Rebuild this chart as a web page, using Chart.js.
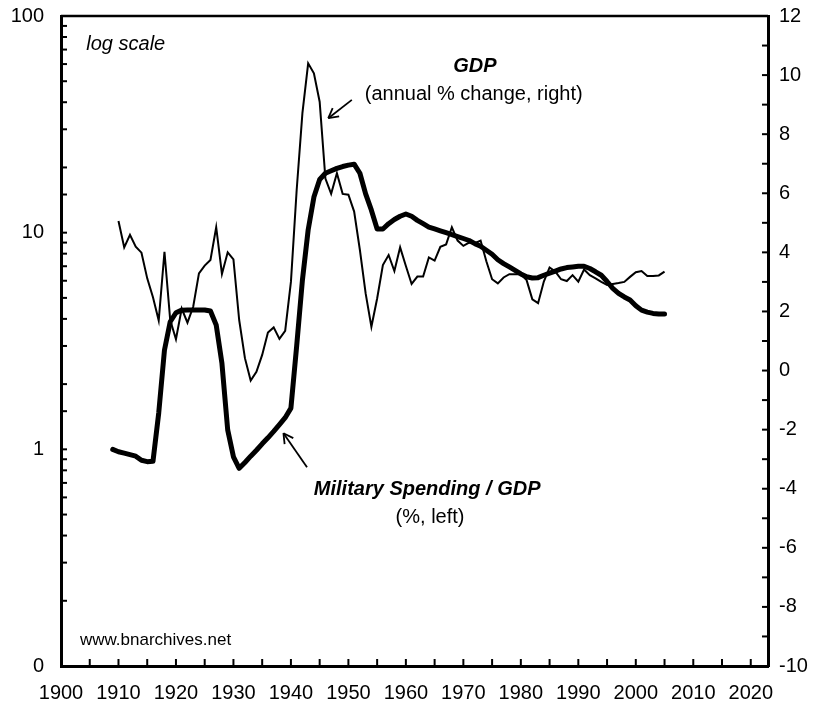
<!DOCTYPE html>
<html>
<head>
<meta charset="utf-8">
<script src="https://cdn.jsdelivr.net/npm/chart.js@4.4.0/dist/chart.umd.min.js"></script>
<style>
  html, body { margin: 0; padding: 0; background: #fff; }
  #chart { display: block; }
</style>
</head>
<body>
<canvas id="chart" width="815" height="708"></canvas>
<script>
const FONT = "'Liberation Sans', Arial, sans-serif";

// military spending as % of GDP, left axis (log), 1909-2005
const milFirstYear = 1909;
const milSpending = [
  1.00, 0.975, 0.96, 0.945, 0.93, 0.89, 0.877, 0.88, 1.47, 2.87,
  3.88, 4.27, 4.39, 4.40, 4.40, 4.40, 4.40, 4.35, 3.75, 2.49,
  1.23, 0.924, 0.817, 0.87, 0.93, 0.99, 1.06, 1.13, 1.21, 1.30,
  1.40, 1.55, 3.0, 6.04, 10.3, 14.6, 17.6, 18.8, 19.3, 19.8,
  20.2, 20.5, 20.7, 18.8, 15.1, 12.7, 10.4, 10.4, 11.0, 11.5,
  11.9, 12.2, 11.9, 11.4, 11.0, 10.6, 10.4, 10.2, 10.0, 9.8,
  9.6, 9.4, 9.2, 8.9, 8.66, 8.3, 7.95, 7.5, 7.2, 6.95,
  6.7, 6.45, 6.26, 6.18, 6.2, 6.36, 6.5, 6.65, 6.8, 6.9,
  6.95, 7.0, 7.0, 6.83, 6.6, 6.36, 5.95, 5.53, 5.25, 5.05,
  4.89, 4.6, 4.39, 4.3, 4.24, 4.21, 4.21
];

// GDP, annual % change, right axis, 1910-2005
const gdpFirstYear = 1910;
const gdpGrowth = [
  5.06, 4.17, 4.59, 4.19, 3.99, 3.12, 2.48, 1.69, 4.02, 1.71,
  1.06, 2.10, 1.62, 2.16, 3.29, 3.55, 3.74, 4.85, 3.27, 4.00,
  3.76, 1.71, 0.42, -0.34, -0.04, 0.53, 1.29, 1.46, 1.07, 1.34,
  3.00, 6.11, 8.71, 10.4, 10.06, 9.10, 6.5, 5.98, 6.68, 5.98,
  5.95, 5.38, 4.08, 2.61, 1.48, 2.44, 3.57, 3.91, 3.37, 4.17,
  3.54, 2.93, 3.18, 3.18, 3.83, 3.72, 4.19, 4.27, 4.85, 4.40,
  4.22, 4.33, 4.31, 4.40, 3.70, 3.09, 2.95, 3.15, 3.26, 3.26,
  3.26, 3.06, 2.41, 2.28, 3.01, 3.49, 3.35, 3.09, 3.03, 3.23,
  3.01, 3.42, 3.23, 3.12, 3.0, 2.90, 2.93, 2.96, 3.0, 3.17,
  3.33, 3.37, 3.2, 3.2, 3.22, 3.35
];

const yearLabels = [1900, 1910, 1920, 1930, 1940, 1950, 1960, 1970, 1980, 1990, 2000, 2010, 2020];
const leftLabels = [[0.1, '0'], [1, '1'], [10, '10'], [100, '100']];
const rightLabels = [-10, -8, -6, -4, -2, 0, 2, 4, 6, 8, 10, 12];

// text notes and arrows, placed in (year, right-axis value) terms
const notes = [
  { text: 'log scale', x: 1904.4, y: 10.85, align: 'left', font: 'italic 20px' },
  { text: 'GDP', x: 1972, y: 10.11, align: 'center', font: 'bold italic 20px' },
  { text: '(annual % change, right)', x: 1971.8, y: 9.16, align: 'center', font: '20px' },
  { text: 'Military Spending / GDP', x: 1963.7, y: -4.21, align: 'center', font: 'bold italic 20px' },
  { text: '(%, left)', x: 1964.2, y: -5.16, align: 'center', font: '20px' },
  { text: 'www.bnarchives.net', x: 1903.3, y: -9.29, align: 'left', font: '17px' }
];
const arrows = [
  { from: [1950.6, 9.16], to: [1946.5, 8.54] },
  { from: [1942.8, -3.27], to: [1938.7, -2.12] }
];

const toPoints = (first, arr) => arr.map((v, i) => ({ x: first + i, y: v }));

function findLabel(list, v) {
  const hit = list.find(p => Math.abs(Math.log10(p[0]) - Math.log10(v)) < 1e-6);
  return hit ? hit[1] : '';
}

function fixPad(s) {
  s.paddingTop = 0; s.paddingBottom = 0; s.paddingLeft = 0; s.paddingRight = 0;
}

const frame = {
  id: 'frame',
  afterDraw(chart) {
    const { ctx, chartArea: a, scales } = chart;
    const line = (x1, y1, x2, y2) => { ctx.beginPath(); ctx.moveTo(x1, y1); ctx.lineTo(x2, y2); ctx.stroke(); };
    ctx.save();
    ctx.strokeStyle = '#000';
    ctx.lineWidth = 2;
    scales.x.ticks.forEach(t => {
      const px = scales.x.getPixelForValue(t.value);
      line(px, a.bottom, px, a.bottom - 7);
    });
    scales.yL.ticks.forEach(t => {
      const py = scales.yL.getPixelForValue(t.value);
      line(a.left, py, a.left + 6, py);
    });
    scales.yR.ticks.forEach(t => {
      const py = scales.yR.getPixelForValue(t.value);
      line(a.right, py, a.right - 6, py);
    });
    ctx.lineWidth = 2.5;
    line(a.left, a.top, a.right, a.top);

    // notes
    ctx.fillStyle = '#000';
    ctx.textBaseline = 'alphabetic';
    notes.forEach(n => {
      ctx.font = n.font + ' ' + FONT;
      ctx.textAlign = n.align;
      ctx.fillText(n.text, scales.x.getPixelForValue(n.x), scales.yR.getPixelForValue(n.y));
    });

    // arrows
    ctx.lineWidth = 1.8;
    arrows.forEach(ar => {
      const x1 = scales.x.getPixelForValue(ar.from[0]), y1 = scales.yR.getPixelForValue(ar.from[1]);
      const x2 = scales.x.getPixelForValue(ar.to[0]), y2 = scales.yR.getPixelForValue(ar.to[1]);
      line(x1, y1, x2, y2);
      const ang = Math.atan2(y1 - y2, x1 - x2);
      [-0.5, 0.5].forEach(d => {
        line(x2, y2, x2 + 11 * Math.cos(ang + d), y2 + 11 * Math.sin(ang + d));
      });
    });
    ctx.restore();
  }
};

new Chart(document.getElementById('chart'), {
  type: 'line',
  data: {
    datasets: [
      {
        label: 'GDP (annual % change)',
        data: toPoints(gdpFirstYear, gdpGrowth),
        yAxisID: 'yR',
        borderColor: '#000',
        borderWidth: 2,
        pointRadius: 0,
        tension: 0
      },
      {
        label: 'Military Spending / GDP',
        data: toPoints(milFirstYear, milSpending),
        yAxisID: 'yL',
        borderColor: '#000',
        borderWidth: 5,
        borderJoinStyle: 'round',
        borderCapStyle: 'round',
        pointRadius: 0,
        tension: 0
      }
    ]
  },
  options: {
    responsive: false,
    animation: false,
    devicePixelRatio: 1,
    layout: { padding: { top: 16, left: 0, right: 0, bottom: 0 } },
    plugins: { legend: { display: false }, tooltip: { enabled: false } },
    scales: {
      x: {
        type: 'linear',
        min: 1900,
        max: 2023,
        grid: { display: false, drawTicks: false },
        border: { display: true, color: '#000', width: 3 },
        ticks: {
          stepSize: 5,
          includeBounds: false,
          autoSkip: false,
          maxRotation: 0,
          padding: 15,
          color: '#000',
          font: { family: FONT, size: 20 },
          callback: v => yearLabels.includes(v) ? String(v) : ''
        },
        afterFit: s => { s.height = 42; fixPad(s); }
      },
      yL: {
        type: 'logarithmic',
        position: 'left',
        min: 0.1,
        max: 100,
        grid: { display: false, drawTicks: false },
        border: { display: true, color: '#000', width: 3 },
        ticks: {
          autoSkip: false,
          padding: 17,
          color: '#000',
          font: { family: FONT, size: 20 },
          callback: v => findLabel(leftLabels, v)
        },
        afterFit: s => { s.width = 61; fixPad(s); }
      },
      yR: {
        type: 'linear',
        position: 'right',
        min: -10,
        max: 12,
        grid: { display: false, drawTicks: false },
        border: { display: true, color: '#000', width: 3 },
        ticks: {
          stepSize: 1,
          autoSkip: false,
          padding: 11,
          color: '#000',
          font: { family: FONT, size: 20 },
          callback: v => rightLabels.includes(v) ? String(v) : ''
        },
        afterFit: s => { s.width = 47; fixPad(s); }
      }
    }
  },
  plugins: [frame]
});
</script>
</body>
</html>
